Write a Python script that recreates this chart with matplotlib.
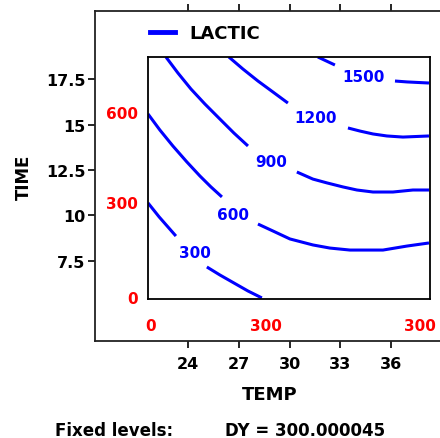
import numpy as np
import matplotlib
matplotlib.use('Agg')
import matplotlib.pyplot as plt
from matplotlib.lines import Line2D

plt.rcParams['font.family'] = 'DejaVu Sans'
plt.rcParams['font.weight'] = 'bold'

# contour lines of LACTIC (TEMP, TIME)
c300_a_temp = [21.64, 22.30, 23.29]
c300_a_time = [10.69, 9.92, 8.87]
c300_b_temp = [25.12, 25.89, 26.72, 27.55, 28.37]
c300_b_time = [7.17, 6.73, 6.29, 5.85, 5.47]

c600_a_temp = [21.64, 22.34, 23.11, 23.94, 24.71, 25.36, 26.01]
c600_a_time = [15.58, 14.70, 13.82, 12.94, 12.17, 11.57, 11.02]
c600_b_temp = [28.14, 29.02, 30.03, 31.39, 32.39, 33.58, 35.53, 36.95, 38.25]
c600_b_time = [9.53, 9.15, 8.71, 8.38, 8.21, 8.10, 8.10, 8.32, 8.49]

c900_a_temp = [22.70, 23.41, 24.18, 25.00, 25.89, 26.72, 27.55]
c900_a_time = [18.71, 17.83, 16.95, 16.13, 15.30, 14.53, 13.82]
c900_b_temp = [30.44, 31.39, 32.22, 33.16, 33.99, 34.94, 36.12, 37.30, 38.25]
c900_b_time = [12.39, 12.00, 11.79, 11.57, 11.40, 11.29, 11.29, 11.40, 11.40]

c1200_a_temp = [26.42, 27.25, 28.14, 29.02, 29.91]
c1200_a_time = [18.71, 18.05, 17.39, 16.79, 16.18]
c1200_b_temp = [33.46, 34.17, 34.94, 35.76, 36.71, 38.25]
c1200_b_time = [14.81, 14.64, 14.48, 14.37, 14.31, 14.37]

c1500_a_temp = [31.68, 32.69]
c1500_a_time = [18.71, 18.27]
c1500_b_temp = [36.24, 36.95, 38.25]
c1500_b_time = [17.39, 17.34, 17.28]

# contour labels
lab_text = ['300', '600', '900', '1200', '1500']
lab_temp = [24.41, 26.66, 28.91, 31.57, 34.40]
lab_time = [7.94, 10.03, 12.99, 15.41, 17.66]

# red labels of the inner frame
inner_x_pos = [21.81, 28.61, 37.71]
inner_x_lab = ['0', '300', '300']
inner_y_pos = [5.52, 10.74, 15.69]
inner_y_lab = ['0', '300', '600']

temp_ticks = [24, 27, 30, 33, 36]
time_ticks = [7.5, 10, 12.5, 15, 17.5]
time_labels = ['7.5', '10', '12.5', '15', '17.5']

fig = plt.figure(figsize=(4.4, 4.39), dpi=100)

# outer axes
ax = fig.add_axes([95/440, 97/439, 350/440, 330/439])
ax.set_xlim(18.50, 39.19)
ax.set_ylim(3.10, 21.24)
ax.spines['right'].set_visible(False)
for s in ['left', 'top', 'bottom']:
    ax.spines[s].set_linewidth(1.3)
    ax.spines[s].set_color('#222222')
ax.set_xticks(temp_ticks)
ax.set_xticklabels([str(t) for t in temp_ticks])
ax.set_yticks(time_ticks)
ax.set_yticklabels(time_labels)
ax.tick_params(axis='x', top=True, direction='out', length=5, width=1.2, pad=6, labelsize=11.5)
ax.tick_params(axis='y', direction='out', length=5, width=1.2, pad=2, labelsize=11.5)
ax.set_xlabel('TEMP', fontsize=13, fontweight='bold', labelpad=10)
ax.set_ylabel('TIME', fontsize=12, fontweight='bold', labelpad=9)

leg_handle = Line2D([], [], color='#0000ff', lw=3.5)
fig.legend(handles=[leg_handle], labels=['LACTIC'], loc='upper left',
           bbox_to_anchor=(141/440, 1 - 16/439), frameon=False, borderpad=0,
           handlelength=1.4, handletextpad=0.8, prop={'size': 13, 'weight': 'bold'})

# inner contour frame
ai = fig.add_axes([148/440, 139/439, 282/440, 242/439])
ai.set_xlim(21.64, 38.31)
ai.set_ylim(5.41, 18.71)
ai.patch.set_alpha(0)
for s in ai.spines.values():
    s.set_linewidth(1.3)
    s.set_color('black')

segs = [(c300_a_temp, c300_a_time), (c300_b_temp, c300_b_time),
        (c600_a_temp, c600_a_time), (c600_b_temp, c600_b_time),
        (c900_a_temp, c900_a_time), (c900_b_temp, c900_b_time),
        (c1200_a_temp, c1200_a_time), (c1200_b_temp, c1200_b_time),
        (c1500_a_temp, c1500_a_time), (c1500_b_temp, c1500_b_time)]
for xs, ys in segs:
    ai.plot(xs, ys, color='#0000ff', lw=2.2, solid_capstyle='butt',
            solid_joinstyle='round')

for t, x, y in zip(lab_text, lab_temp, lab_time):
    ai.text(x, y, t, color='#0000ff', fontsize=11, fontweight='bold',
            ha='center', va='center')

ai.set_xticks(inner_x_pos)
ai.set_xticklabels(inner_x_lab)
ai.set_yticks(inner_y_pos)
ai.set_yticklabels(inner_y_lab)
ai.tick_params(axis='both', length=0, labelcolor='#ff0000', labelsize=11)
ai.tick_params(axis='x', pad=13.5)
ai.tick_params(axis='y', pad=7)

fig.text(55/440, 1 - 431/439, 'Fixed levels:', fontsize=12, fontweight='bold',
         ha='left', va='center')
fig.text(225/440, 1 - 431/439, 'DY = 300.000045', fontsize=12, fontweight='bold',
         ha='left', va='center')

plt.savefig('out.png', dpi=100)
